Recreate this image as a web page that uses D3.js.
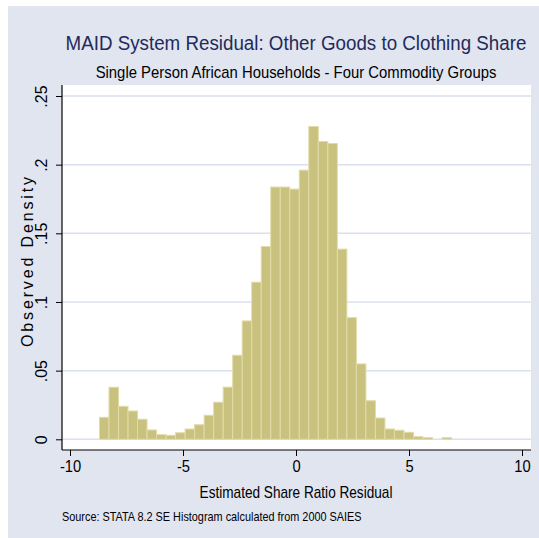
<!DOCTYPE html>
<html>
<head>
<meta charset="utf-8">
<script src="https://cdn.jsdelivr.net/npm/d3@7"></script>
<style>
  body { margin: 0; background: #ffffff; }
  text { font-family: "Liberation Sans", Arial, sans-serif; }
</style>
</head>
<body>
<svg id="chart" width="539" height="538"></svg>
<script>
// Histogram of the estimated share-ratio residuals (density scale)
const binStart = -8.695;
const binWidth = 0.421;
const density = [
  0.0160, 0.0379, 0.0240, 0.0206, 0.0146, 0.0068, 0.0034, 0.0029, 0.0048, 0.0075,
  0.0106, 0.0175, 0.0270, 0.0380, 0.0612, 0.0862, 0.1144, 0.1404, 0.1837, 0.1837,
  0.1822, 0.1960, 0.2278, 0.2169, 0.2154, 0.1385, 0.0886, 0.0549, 0.0281, 0.0155,
  0.0075, 0.0066, 0.0051, 0.0019, 0.0012, 0.0000, 0.0012
];
const xTicks = [-10, -5, 0, 5, 10];
const xTickLabels = ["-10", "-5", "0", "5", "10"];
const yTicks = [0, 0.05, 0.1, 0.15, 0.2, 0.25];
const yTickLabels = ["0", ".05", ".1", ".15", ".2", ".25"];

const titleText = "MAID System Residual: Other Goods to Clothing Share";
const subtitleText = "Single Person African Households - Four Commodity Groups";
const xTitle = "Estimated Share Ratio Residual";
const yTitle = "Observed Density";
const noteText = "Source: STATA 8.2 SE Histogram calculated from 2000 SAIES";

const svg = d3.select("#chart");

// squeeze a text horizontally (about its anchor) so it spans the given width
function fitWidth(sel, x, y, width) {
  sel.each(function () {
    const natural = this.getComputedTextLength();
    const k = natural > 0 ? width / natural : 1;
    d3.select(this)
      .attr("x", 0).attr("y", 0)
      .attr("transform", `translate(${x},${y}) scale(${k},1)`);
  });
}

// graph region background
svg.append("rect")
  .attr("x", 8).attr("y", 6).attr("width", 531).attr("height", 532)
  .attr("fill", "#e1e5f0");

// plot region
const plot = { left: 62, right: 531, top: 85, bottom: 450 };
svg.append("rect")
  .attr("x", plot.left).attr("y", plot.top)
  .attr("width", plot.right - plot.left).attr("height", plot.bottom - plot.top)
  .attr("fill", "#ffffff");

const x = d3.scaleLinear().domain([-10, 10]).range([70, 522]);
const y = d3.scaleLinear().domain([0, 0.25]).range([439.3, 96]);

// horizontal grid lines
svg.append("g").selectAll("line").data(yTicks).join("line")
  .attr("x1", plot.left).attr("x2", plot.right)
  .attr("y1", d => y(d)).attr("y2", d => y(d))
  .attr("stroke", "#dbe0ef").attr("stroke-width", 1.5);

// bars
const bins = density.map((d, i) => ({
  x0: binStart + i * binWidth,
  x1: binStart + (i + 1) * binWidth,
  v: d
})).filter(b => b.v > 0);

svg.append("g").selectAll("rect").data(bins).join("rect")
  .attr("x", d => x(d.x0))
  .attr("width", d => x(d.x1) - x(d.x0))
  .attr("y", d => y(d.v))
  .attr("height", d => y(0) - y(d.v))
  .attr("fill", "#c9c17e")
  .attr("stroke", "#e2dba8")
  .attr("stroke-width", 1);

// y axis
const yAxis = d3.axisLeft(y)
  .tickValues(yTicks)
  .tickFormat((d, i) => yTickLabels[i])
  .tickSizeOuter(0)
  .tickSize(6);
const gy = svg.append("g").attr("transform", `translate(${plot.left},0)`).call(yAxis);
gy.select(".domain").remove();
gy.selectAll(".tick line").attr("stroke", "#000").attr("stroke-width", 1);
gy.selectAll(".tick text")
  .attr("font-size", 16)
  .attr("fill", "#000")
  .attr("text-anchor", "middle")
  .attr("dy", null)
  .attr("x", 0)
  .attr("y", 0)
  .attr("transform", "translate(-15,0) rotate(-90)");

// x axis
const xAxis = d3.axisBottom(x)
  .tickValues(xTicks)
  .tickFormat((d, i) => xTickLabels[i])
  .tickSizeOuter(0)
  .tickSize(6);
const gx = svg.append("g").attr("transform", `translate(0,${plot.bottom})`).call(xAxis);
gx.select(".domain").remove();
gx.selectAll(".tick line").attr("stroke", "#000").attr("stroke-width", 1);
gx.selectAll(".tick text")
  .attr("font-size", 16)
  .attr("fill", "#000")
  .attr("dy", null)
  .attr("y", 0)
  .attr("transform", "translate(0,22) scale(0.92,1)");

// axis lines
svg.append("line")
  .attr("x1", plot.left).attr("x2", plot.left)
  .attr("y1", plot.top).attr("y2", plot.bottom)
  .attr("stroke", "#000").attr("stroke-width", 1.2);
svg.append("line")
  .attr("x1", plot.left).attr("x2", plot.right)
  .attr("y1", plot.bottom).attr("y2", plot.bottom)
  .attr("stroke", "#000").attr("stroke-width", 1.2);

// titles
svg.append("text")
  .attr("text-anchor", "middle")
  .attr("font-size", 21)
  .attr("fill", "#1e2b5b")
  .text(titleText)
  .call(fitWidth, 296, 50, 461);

svg.append("text")
  .attr("text-anchor", "middle")
  .attr("font-size", 16)
  .attr("fill", "#000")
  .text(subtitleText)
  .call(fitWidth, 296, 78, 401);

svg.append("text")
  .attr("text-anchor", "middle")
  .attr("font-size", 16)
  .attr("fill", "#000")
  .text(xTitle)
  .call(fitWidth, 296, 498, 193);

svg.append("text")
  .attr("transform", "translate(33,262) rotate(-90)")
  .attr("text-anchor", "middle")
  .attr("font-size", 16)
  .attr("fill", "#000")
  .attr("textLength", 170).attr("lengthAdjust", "spacing")
  .text(yTitle);

svg.append("text")
  .attr("font-size", 12)
  .attr("fill", "#000")
  .text(noteText)
  .call(fitWidth, 62, 521, 300);
</script>
</body>
</html>
